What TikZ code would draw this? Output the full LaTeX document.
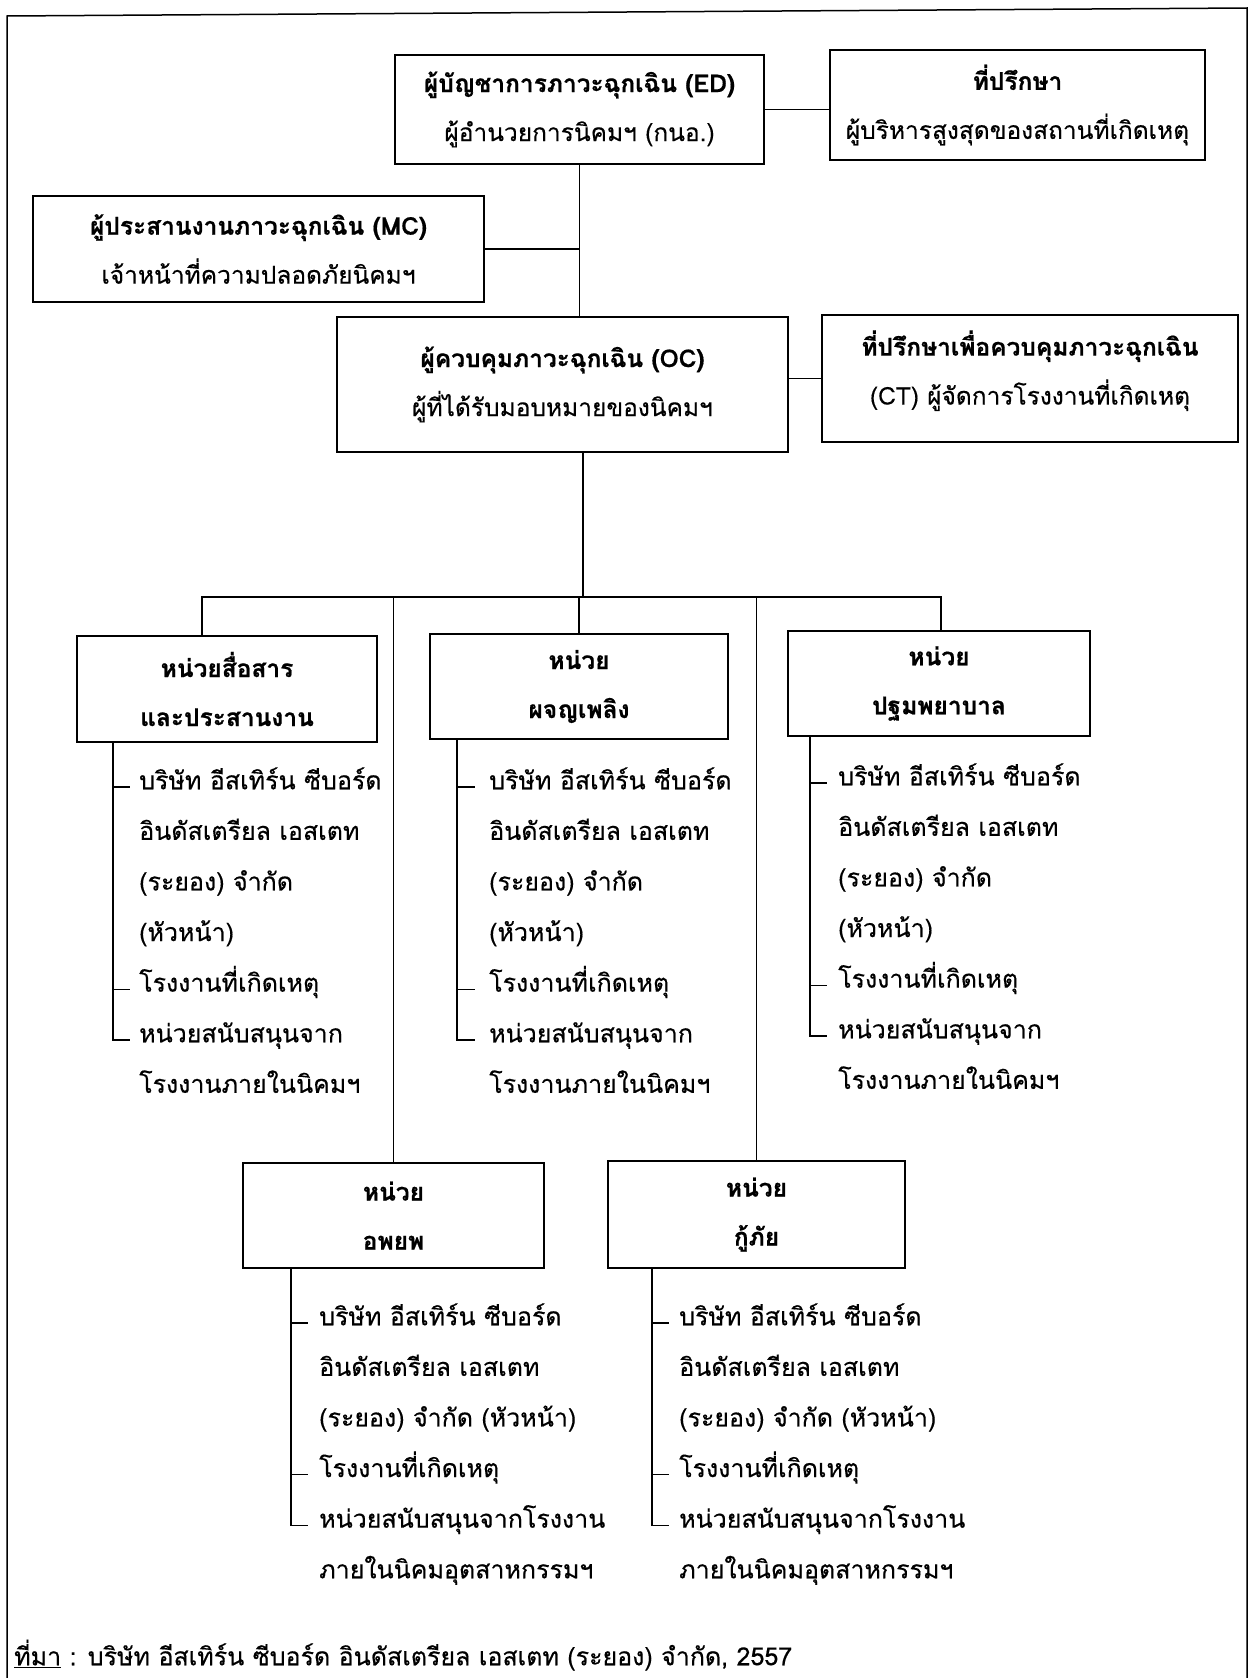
\documentclass[tikz,border=0pt]{standalone}
\usepackage{fontspec}
\setmainfont{Loma}[Script=Thai, UprightFeatures={FakeBold=0.4}, BoldFeatures={FakeBold=0.6}]
\newcommand\boxfont{\fontsize{24.5}{49}\selectfont}
\newcommand\itemfont{\fontsize{25}{25}\selectfont}
\tikzset{
  box/.style={draw, line width=1.7pt, align=center, inner sep=0pt, font=\boxfont},
  conn/.style={line width=1.2pt},
  itemtxt/.style={inner sep=0pt, anchor=west, font=\itemfont, text height=0.55em, text depth=0.1em},
}
\newcommand\itemcol[4]{%
  \foreach \t [count=\i] in {#4} {
    \node[itemtxt] (#1-\i) at (#2, {#3+(\i-1)*50.6}) {\t};
  }%
}
\begin{document}
\begin{tikzpicture}[x=1pt,y=-1pt]
\useasboundingbox (0,0) rectangle (1252,1678);
% outer frame
\draw[line width=1.5pt] (7,1678) -- (7,16) -- (1247,8) -- (1247,1678);

% top boxes
\node[box, minimum width=369pt, minimum height=109pt] (ED) at (579.5,109.5)
  {\textbf{ผู้บัญชาการภาวะฉุกเฉิน (ED)}\\ผู้อำนวยการนิคมฯ (กนอ.)};
\node[box, minimum width=375pt, minimum height=110pt] (ADV) at (1017.5,105)
  {\textbf{ที่ปรึกษา}\\ผู้บริหารสูงสุดของสถานที่เกิดเหตุ};
\node[box, minimum width=451pt, minimum height=106pt] (MC) at (258.5,249)
  {\textbf{ผู้ประสานงานภาวะฉุกเฉิน (MC)}\\เจ้าหน้าที่ความปลอดภัยนิคมฯ};
\node[box, minimum width=451pt, minimum height=135pt] (OC) at (562.5,384.5)
  {\textbf{ผู้ควบคุมภาวะฉุกเฉิน (OC)}\\ผู้ที่ได้รับมอบหมายของนิคมฯ};
\node[box, minimum width=416pt, minimum height=127pt] (CT) at (1030,378.5)
  {\textbf{ที่ปรึกษาเพื่อควบคุมภาวะฉุกเฉิน}\\(CT) ผู้จัดการโรงงานที่เกิดเหตุ\rule[-22pt]{0pt}{1pt}};

% unit boxes
\node[box, minimum width=300pt, minimum height=106pt] (U1) at (227,689)
  {\textbf{หน่วยสื่อสาร}\\\textbf{และประสานงาน}};
\node[box, minimum width=298pt, minimum height=105pt] (U2) at (579,686.5)
  {\textbf{หน่วย}\\\textbf{ผจญเพลิง}};
\node[box, minimum width=302pt, minimum height=105pt] (U3) at (939,683.5)
  {\textbf{หน่วย}\\\textbf{ปฐมพยาบาล}};
\node[box, minimum width=301pt, minimum height=105pt] (U4) at (393.5,1215.5)
  {\textbf{หน่วย}\\\textbf{อพยพ}};
\node[box, minimum width=297pt, minimum height=107pt] (U5) at (756.5,1214.5)
  {\textbf{หน่วย}\\\textbf{กู้ภัย}};

% connectors at the top
\draw[conn] (ED.east) -- (ED.east -| ADV.west);
\draw[conn] (ED.south) -- (ED.south |- OC.north);
\draw[conn] (MC.east) -- (MC.east -| ED.south);
\draw[conn] (CT.west -| OC.east) -- (CT.west);

% bus
\coordinate (bC) at (583,597);
\coordinate (bL) at (202,597);
\coordinate (bR) at (941,597);
\draw[conn] (bC |- OC.south) -- (bC);
\draw[conn] (U1.north -| bL) -- (bL) -- (bR) -- (U3.north -| bR);
\draw[conn] (U2.north) -- (U2.north |- bL);
\draw[conn] (U4.north) -- (U4.north |- bL);
\draw[conn] (U5.north) -- (U5.north |- bL);

% item lists
\itemcol{L1}{139}{787}{บริษัท อีสเทิร์น ซีบอร์ด, อินดัสเตรียล เอสเตท, {(ระยอง) จำกัด}, {(หัวหน้า)}, โรงงานที่เกิดเหตุ, หน่วยสนับสนุนจาก, โรงงานภายในนิคมฯ}
\itemcol{L2}{489}{787}{บริษัท อีสเทิร์น ซีบอร์ด, อินดัสเตรียล เอสเตท, {(ระยอง) จำกัด}, {(หัวหน้า)}, โรงงานที่เกิดเหตุ, หน่วยสนับสนุนจาก, โรงงานภายในนิคมฯ}
\itemcol{L3}{838}{783}{บริษัท อีสเทิร์น ซีบอร์ด, อินดัสเตรียล เอสเตท, {(ระยอง) จำกัด}, {(หัวหน้า)}, โรงงานที่เกิดเหตุ, หน่วยสนับสนุนจาก, โรงงานภายในนิคมฯ}
\itemcol{L4}{319}{1323}{บริษัท อีสเทิร์น ซีบอร์ด, อินดัสเตรียล เอสเตท, {(ระยอง) จำกัด (หัวหน้า)}, โรงงานที่เกิดเหตุ, หน่วยสนับสนุนจากโรงงาน, ภายในนิคมอุตสาหกรรมฯ}
\itemcol{L5}{679}{1323}{บริษัท อีสเทิร์น ซีบอร์ด, อินดัสเตรียล เอสเตท, {(ระยอง) จำกัด (หัวหน้า)}, โรงงานที่เกิดเหตุ, หน่วยสนับสนุนจากโรงงาน, ภายในนิคมอุตสาหกรรมฯ}

% brackets
\coordinate (B1) at (113,0);
\coordinate (B2) at (457,0);
\coordinate (B3) at (810,0);
\coordinate (B4) at (291,0);
\coordinate (B5) at (652,0);
\draw[conn] (U1.south -| B1) -- (L1-6.west -| B1) -- ++(17,0);
\draw[conn] (L1-1.west -| B1) -- ++(17,0);
\draw[conn] (L1-5.west -| B1) -- ++(17,0);
\draw[conn] (U2.south -| B2) -- (L2-6.west -| B2) -- ++(18,0);
\draw[conn] (L2-1.west -| B2) -- ++(18,0);
\draw[conn] (L2-5.west -| B2) -- ++(18,0);
\draw[conn] (U3.south -| B3) -- (L3-6.west -| B3) -- ++(17,0);
\draw[conn] (L3-1.west -| B3) -- ++(17,0);
\draw[conn] (L3-5.west -| B3) -- ++(17,0);
\draw[conn] (U4.south -| B4) -- (L4-5.west -| B4) -- ++(17,0);
\draw[conn] (L4-1.west -| B4) -- ++(17,0);
\draw[conn] (L4-4.west -| B4) -- ++(17,0);
\draw[conn] (U5.south -| B5) -- (L5-5.west -| B5) -- ++(17,0);
\draw[conn] (L5-1.west -| B5) -- ++(17,0);
\draw[conn] (L5-4.west -| B5) -- ++(17,0);

% source
\node[itemtxt] (src) at (14,1663)
  {\underline{ที่มา} : บริษัท อีสเทิร์น ซีบอร์ด อินดัสเตรียล เอสเตท (ระยอง) จำกัด, 2557};
\end{tikzpicture}
\end{document}
